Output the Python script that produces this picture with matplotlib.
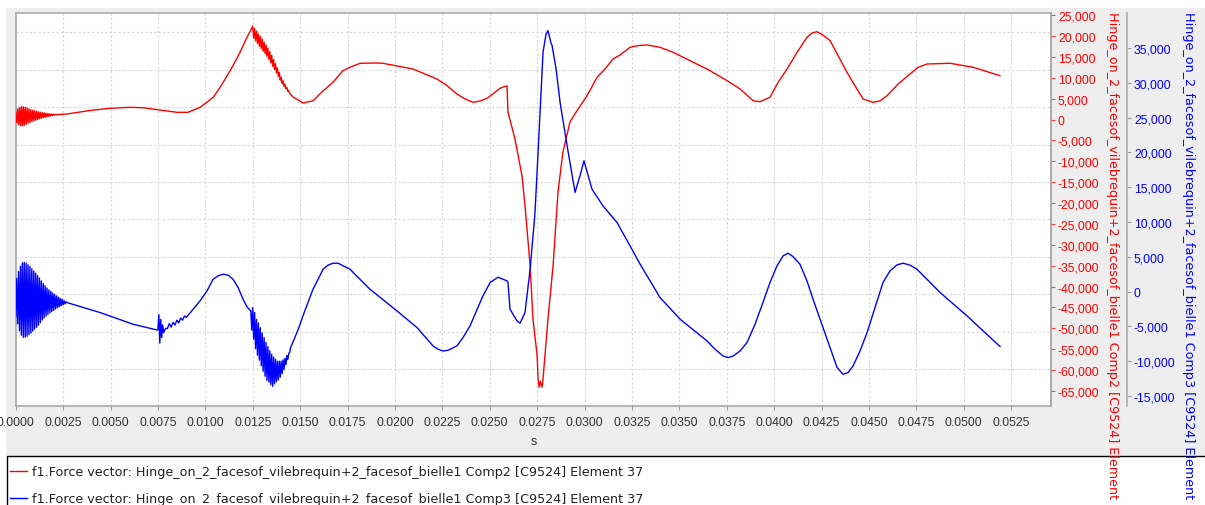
import numpy as np
import matplotlib
matplotlib.use('Agg')
import matplotlib.pyplot as plt
from matplotlib.patches import Rectangle
from matplotlib.ticker import StrMethodFormatter

plt.rcParams['font.family'] = ['DejaVu Sans']
plt.rcParams['axes.unicode_minus'] = False

# Comp2 (red), (time s, force N)
red_burst1 = [(0.00000, 1750), (0.00005, -740), (0.00010, 2570), (0.00015, -1220), (0.00020, 2890),
              (0.00025, -1450), (0.00030, 3110), (0.00035, -1480), (0.00040, 3080), (0.00045, -1360),
              (0.00050, 2950), (0.00055, -1140), (0.00060, 2770), (0.00065, -920), (0.00070, 2590),
              (0.00075, -700), (0.00080, 2410), (0.00085, -480), (0.00090, 2280), (0.00095, -360),
              (0.00100, 2150), (0.00105, -140), (0.00110, 1970), (0.00115, 30), (0.00120, 1890),
              (0.00125, 200), (0.00130, 1760), (0.00135, 320), (0.00140, 1680), (0.00145, 440),
              (0.00150, 1600), (0.00155, 560), (0.00160, 1520), (0.00165, 680), (0.00170, 1460),
              (0.00175, 770), (0.00180, 1410), (0.00185, 870), (0.00190, 1330), (0.00195, 970),
              (0.00200, 1300), (0.00205, 1060), (0.00210, 1250), (0.00215, 1130), (0.00220, 1200)]
red_rise = [(0.00269, 1340), (0.00392, 2180), (0.00497, 2710), (0.00603, 2950), (0.00671, 2850),
            (0.00761, 2300), (0.00851, 1750), (0.00909, 1750), (0.00973, 2950), (0.01042, 5350),
            (0.01078, 7740), (0.01115, 10520), (0.01146, 12920), (0.01183, 16130), (0.01220, 19730)]
red_burst2 = [(0.01250, 22400), (0.01255, 19500), (0.01260, 21800), (0.01265, 18900), (0.01270, 21200),
              (0.01275, 18250), (0.01280, 20500), (0.01285, 17600), (0.01290, 19900), (0.01295, 17000),
              (0.01300, 19300), (0.01305, 16400), (0.01310, 18550), (0.01315, 15800), (0.01320, 17900),
              (0.01325, 15200), (0.01330, 17150), (0.01335, 14500), (0.01340, 16300), (0.01345, 13650),
              (0.01350, 15400), (0.01355, 12800), (0.01360, 14400), (0.01365, 12000), (0.01370, 13400),
              (0.01375, 11200), (0.01380, 12400), (0.01385, 10350), (0.01390, 11300), (0.01395, 9450),
              (0.01400, 10200), (0.01405, 8650), (0.01410, 9300), (0.01415, 8000), (0.01420, 8500),
              (0.01425, 7400), (0.01430, 7700), (0.01435, 6800), (0.01440, 6900), (0.01445, 6250),
              (0.01450, 6100)]
red_rest = [(0.01463, 5420), (0.01516, 3980), (0.01569, 4530), (0.01622, 6930), (0.01673, 8940),
            (0.01726, 11720), (0.01763, 12540), (0.01816, 13500), (0.01907, 13570), (0.01937, 13500),
            (0.02095, 12130), (0.02222, 9730), (0.02275, 8130), (0.02327, 6140), (0.02370, 4940),
            (0.02412, 4150), (0.02449, 4460), (0.02486, 5110), (0.02554, 7500), (0.02591, 8130),
            (0.02596, 1820), (0.02633, -4650), (0.02670, -13450), (0.02686, -20640), (0.02713, -35030),
            (0.02728, -47810), (0.02750, -56600), (0.02755, -62190), (0.02760, -64130), (0.02766, -62700),
            (0.02776, -64130), (0.02781, -62190), (0.02807, -47810), (0.02834, -35030), (0.02860, -17360),
            (0.02886, -7770), (0.02923, -580), (0.02960, 2130), (0.03013, 5730), (0.03066, 10140),
            (0.03108, 12130), (0.03150, 14530), (0.03187, 15480), (0.03240, 17330), (0.03285, 17750),
            (0.03330, 17890), (0.03398, 17330), (0.03467, 16140), (0.03556, 14120), (0.03646, 12130),
            (0.03752, 9330), (0.03820, 7340), (0.03889, 4530), (0.03925, 4290), (0.03978, 5350),
            (0.04021, 8940), (0.04068, 12130), (0.04121, 16130), (0.04173, 19730), (0.04200, 20760),
            (0.04226, 21070), (0.04257, 20280), (0.04295, 18920), (0.04337, 15320), (0.04384, 11340),
            (0.04426, 8130), (0.04469, 4940), (0.04521, 4150), (0.04558, 4460), (0.04595, 5730),
            (0.04654, 8540), (0.04717, 10930), (0.04759, 12540), (0.04807, 13330), (0.04928, 13500),
            (0.05049, 12540), (0.05191, 10530)]

# Comp3 (blue)
blue_burst1 = [(0.00000, -3600), (0.00005, 1890), (0.00010, -4620), (0.00015, 2870), (0.00020, -5640),
               (0.00025, 3650), (0.00030, -6260), (0.00035, 4130), (0.00040, -6580), (0.00045, 4210),
               (0.00050, -6550), (0.00055, 4090), (0.00060, -6420), (0.00065, 3870), (0.00070, -6190),
               (0.00075, 3600), (0.00080, -5960), (0.00085, 3280), (0.00090, -5680), (0.00095, 2960),
               (0.00100, -5400), (0.00105, 2640), (0.00110, -5120), (0.00115, 2320), (0.00120, -4840),
               (0.00125, 1950), (0.00130, -4460), (0.00135, 1530), (0.00140, -4080), (0.00145, 1160),
               (0.00150, -3800), (0.00155, 840), (0.00160, -3520), (0.00165, 520), (0.00170, -3290),
               (0.00175, 250), (0.00180, -3060), (0.00185, 30), (0.00190, -2880), (0.00195, -190),
               (0.00200, -2700), (0.00205, -405), (0.00210, -2510), (0.00215, -615), (0.00220, -2320),
               (0.00225, -805), (0.00230, -2180), (0.00235, -965), (0.00240, -2040), (0.00245, -1125),
               (0.00250, -1900), (0.00255, -1305), (0.00260, -1760), (0.00265, -1445), (0.00270, -1570)]
blue_mid = [(0.00445, -3010), (0.00619, -4690), (0.00745, -5510), (0.00750, -5500), (0.00755, -3300),
            (0.00760, -7400), (0.00765, -4000), (0.00770, -6600), (0.00775, -4800), (0.00780, -5900),
            (0.00790, -5300), (0.0080, -5300), (0.0081, -4600), (0.0082, -5100), (0.0083, -4400),
            (0.0084, -4800), (0.0085, -4100), (0.0086, -4500), (0.0087, -3800), (0.0088, -4100),
            (0.0089, -3500), (0.0090, -3700), (0.00972, -1340), (0.01009, 100), (0.01041, 1780),
            (0.01067, 2260), (0.01094, 2500), (0.01120, 2360), (0.01146, 1780), (0.01173, 590),
            (0.01199, -1090), (0.01220, -2200)]
blue_burst2 = [(0.01240, -2800), (0.01245, -5550), (0.01250, -2300), (0.01255, -6850), (0.01260, -3000),
               (0.01265, -8200), (0.01270, -4000), (0.01275, -9150), (0.01280, -4500), (0.01285, -9850),
               (0.01290, -5200), (0.01295, -10650), (0.01300, -5950), (0.01305, -11450), (0.01310, -6600),
               (0.01315, -12150), (0.01320, -7300), (0.01325, -12750), (0.01330, -7900), (0.01335, -13000),
               (0.01340, -8500), (0.01345, -13350), (0.01350, -9000), (0.01355, -13600), (0.01360, -9400),
               (0.01365, -13250), (0.01370, -9700), (0.01375, -12950), (0.01380, -10000), (0.01385, -12700),
               (0.01390, -10000), (0.01395, -12300), (0.01400, -10000), (0.01405, -11800), (0.01410, -9800),
               (0.01415, -11200), (0.01420, -9600), (0.01425, -10500), (0.01430, -9200), (0.01435, -9750),
               (0.01440, -8900), (0.01445, -8700), (0.01450, -8000), (0.01455, -7700), (0.01460, -7400)]
blue_rest = [(0.01490, -5410), (0.01515, -3490), (0.01568, 350), (0.01595, 1780), (0.01621, 3220),
             (0.01647, 3800), (0.01673, 4080), (0.01700, 4080), (0.01727, 3700), (0.01763, 3220),
             (0.01806, 2030), (0.01868, 350), (0.02011, -2780), (0.02116, -5160), (0.02201, -7810),
             (0.02227, -8280), (0.02254, -8530), (0.02280, -8430), (0.02327, -7810), (0.02359, -6600),
             (0.02396, -4930), (0.02464, -620), (0.02502, 1310), (0.02544, 2070), (0.02591, 1540),
             (0.02596, 1310), (0.02607, -2530), (0.02644, -4220), (0.02660, -4540), (0.02686, -3010),
             (0.02713, 3220), (0.02738, 11040), (0.02755, 20050), (0.02781, 34380), (0.02797, 37010),
             (0.02807, 37490), (0.02818, 36290), (0.02823, 35720), (0.02829, 35330), (0.02850, 31980),
             (0.02871, 27190), (0.02908, 20950), (0.02950, 14250), (0.02976, 16640), (0.02997, 18800),
             (0.03039, 14730), (0.03097, 12320), (0.03171, 9940), (0.03240, 6570), (0.03293, 3940),
             (0.03398, -850), (0.03504, -3970), (0.03646, -7090), (0.03688, -8280), (0.03731, -9250),
             (0.03757, -9480), (0.03784, -9250), (0.03820, -8530), (0.03857, -7320), (0.03899, -4690),
             (0.03941, -1570), (0.03978, 1310), (0.04015, 3700), (0.04047, 5130), (0.04073, 5520),
             (0.04099, 5050), (0.04136, 3940), (0.04173, 1540), (0.04205, -1090), (0.04242, -3970),
             (0.04279, -6840), (0.04332, -10910), (0.04363, -11880), (0.04390, -11630), (0.04416, -10680),
             (0.04453, -8530), (0.04490, -5880), (0.04532, -2290), (0.04574, 1310), (0.04611, 2980),
             (0.04648, 3840), (0.04680, 4080), (0.04717, 3800), (0.04753, 3220), (0.04875, -130),
             (0.05017, -3490), (0.05191, -7890)]

red_ticks = list(range(-65000, 25001, 5000))
blue_ticks = list(range(-15000, 35001, 5000))
x_ticks = np.arange(0, 0.05251, 0.0025)

label_red = 'f1.Force vector: Hinge_on_2_facesof_vilebrequin+2_facesof_bielle1 Comp2 [C9524] Element 37'
label_blue = 'f1.Force vector: Hinge_on_2_facesof_vilebrequin+2_facesof_bielle1 Comp3 [C9524] Element 37'
ylab_red = 'Hinge_on_2_facesof_vilebrequin+2_facesof_bielle1 Comp2 [C9524] Element 37'
ylab_blue = 'Hinge_on_2_facesof_vilebrequin+2_facesof_bielle1 Comp3 [C9524] Element 37'

red = np.array(red_burst1 + red_rise + red_burst2 + red_rest)
blue = np.array(blue_burst1 + blue_mid + blue_burst2 + blue_rest)

W, H = 1205, 506
fig = plt.figure(figsize=(W / 100, H / 100), dpi=100, facecolor='white')

# grey panel behind the chart, white legend box below it
fig.add_artist(Rectangle((6 / W, 1 - 457 / H), 1, (457 - 9) / H, transform=fig.transFigure,
                         facecolor='#eeeeee', edgecolor='none', zorder=-5))
fig.add_artist(Rectangle((7 / W, -0.2), 1.2, 0.2 + 1 - 457 / H, transform=fig.transFigure,
                         facecolor='white', edgecolor='black', linewidth=1, zorder=1))

left, right, top, bottom = 15.7, 1051, 14, 407.3
ax = fig.add_axes([left / W, 1 - bottom / H, (right - left) / W, (bottom - top) / H])
ax.set_facecolor('white')

ax2 = ax.twinx()
ax3 = ax.twinx()

ax.set_xlim(0, 0.0546)
ax.set_ylim(0, 10.52)
ax.set_yticks(range(11))
ax.set_xticks(x_ticks)
ax.xaxis.set_major_formatter(StrMethodFormatter('{x:.4f}'))
ax.tick_params(axis='y', left=False, right=False, labelleft=False, labelright=False)
ax.tick_params(axis='x', direction='out', length=3, color='#999999', labelsize=8.8,
               labelcolor='#333333', pad=4, labelfontfamily='Liberation Sans')
ax.grid(True, color='#d6d6d6', linestyle=(0, (2, 2)), linewidth=0.8)
for s in ax.spines.values():
    s.set_color('#aaaaaa')
    s.set_linewidth(1.2)
ax.set_xlabel('s', fontsize=9, color='#333333', labelpad=5, family='Liberation Sans')

ax2.set_ylim(-68700, 25550)
ax2.set_yticks(red_ticks)
ax2.yaxis.set_major_formatter(StrMethodFormatter('{x:,.0f}'))
ax2.tick_params(axis='y', direction='out', length=3, color='#ff4040', labelsize=8.8,
                labelcolor='#ff0000', pad=2, labelfontfamily='Liberation Sans')
for k in ['left', 'top', 'bottom']:
    ax2.spines[k].set_visible(False)
ax2.spines['right'].set_color('#aaaaaa')
ax2.spines['right'].set_linewidth(1.2)
l1, = ax2.plot(red[:, 0], red[:, 1], color='#ff0000', linewidth=1.0)

ax3.spines['right'].set_position(('axes', (1127 - left) / (right - left)))
ax3.set_ylim(-16480, 40030)
ax3.set_yticks(blue_ticks)
ax3.yaxis.set_major_formatter(StrMethodFormatter('{x:,.0f}'))
ax3.tick_params(axis='y', direction='out', length=3, color='#999999', labelsize=8.8,
                labelcolor='#0000ff', pad=2, labelfontfamily='Liberation Sans')
for k in ['left', 'top', 'bottom']:
    ax3.spines[k].set_visible(False)
ax3.spines['right'].set_color('#aaaaaa')
ax3.spines['right'].set_linewidth(1.2)
l2, = ax3.plot(blue[:, 0], blue[:, 1], color='#0000ff', linewidth=1.0)

fig.text(1112 / W, 1 - 12 / H, ylab_red, rotation=270, ha='center', va='top',
         fontsize=9.2, color='#ff0000', zorder=3)
fig.text(1188 / W, 1 - 12 / H, ylab_blue, rotation=270, ha='center', va='top',
         fontsize=9.2, color='#0000ff', zorder=3)

leg = fig.legend([l1, l2], [label_red, label_blue], loc='upper left',
                 bbox_to_anchor=(10 / W, 1 - 466 / H), frameon=False, fontsize=9.2,
                 borderpad=0, borderaxespad=0, handlelength=1.3, handletextpad=0.45,
                 labelspacing=1.1)
for t in leg.get_texts():
    t.set_color('#222222')

fig.savefig('out.png', dpi=100, facecolor='white')
